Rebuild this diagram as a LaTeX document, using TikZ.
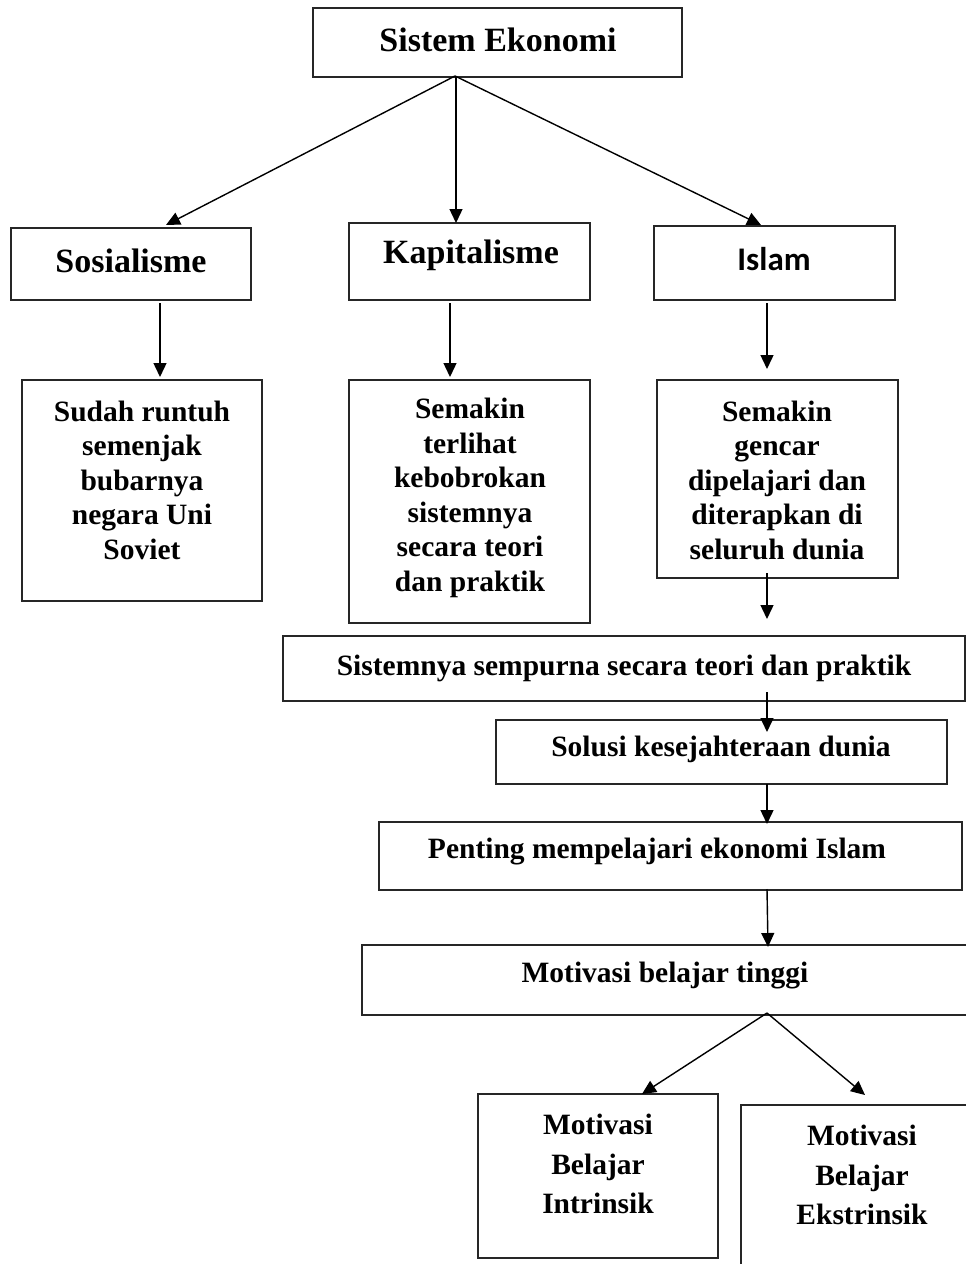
\documentclass[tikz,border=0pt]{standalone}
\usepackage{fontspec}
\setmainfont{Liberation Serif}
\newfontfamily\calfont{Carlito}
\usetikzlibrary{arrows.meta}
\tikzset{
  box/.style={draw=black!85, line width=1.3pt, anchor=north west, inner sep=0pt, outer sep=0pt},
  title/.style={font=\fontsize{34}{40}\selectfont\bfseries, inner sep=0pt},
  body/.style={font=\fontsize{29.5}{34.5}\selectfont\bfseries, align=center, inner sep=0pt},
  bodywide/.style={font=\fontsize{29.5}{39.5}\selectfont\bfseries, align=center, inner sep=0pt},
  arr/.style={line width=1.4pt, -{Triangle[length=14pt,width=13pt]}}
}
\begin{document}
\begin{tikzpicture}[x=1pt,y=-1pt]
\clip (0,0) rectangle (966,1264);
\fill[white] (0,0) rectangle (966,1264);
% boxes
\node[box, minimum width=369pt, minimum height=69pt] (top) at (313,8) {};
\node[box, minimum width=240pt, minimum height=72pt] (soc) at (11,228) {};
\node[box, minimum width=241pt, minimum height=77pt] (kap) at (349,223) {};
\node[box, minimum width=241pt, minimum height=74pt] (isl) at (654,226) {};
\node[box, minimum width=240pt, minimum height=221pt] (sud) at (22,380) {};
\node[box, minimum width=241pt, minimum height=243pt] (ter) at (349,380) {};
\node[box, minimum width=241pt, minimum height=198pt] (gen) at (657,380) {};
\node[box, minimum width=682pt, minimum height=65pt] (sis) at (283,636) {};
\node[box, minimum width=451pt, minimum height=64pt] (sol) at (496,720) {};
\node[box, minimum width=583pt, minimum height=68pt] (pen) at (379,822) {};
\node[box, minimum width=640pt, minimum height=70pt] (mot) at (362,945) {};
\node[box, minimum width=240pt, minimum height=164pt] (intr) at (478,1094) {};
\node[box, minimum width=300pt, minimum height=200pt] (ekst) at (741,1105) {};
% texts
\node[title] (tTop) at (498,40) {Sistem Ekonomi};
\node[title] (tSoc) at (131,261) {Sosialisme};
\node[title] (tKap) at (471,255) {Kapitalisme};
\node[title, font=\calfont\fontsize{33}{40}\selectfont\bfseries] (tIsl) at (774,259) {Islam};
\node[body] (tSud) at (142,480) {Sudah runtuh\\semenjak\\bubarnya\\negara Uni\\Soviet};
\node[body] (tTer) at (470,498) {Semakin\\terlihat\\kebobrokan\\sistemnya\\secara teori\\dan praktik};
\node[body] (tGen) at (777,480) {Semakin\\gencar\\dipelajari dan\\diterapkan di\\seluruh dunia};
\node[body] (tSis) at (624,668) {Sistemnya sempurna secara teori dan praktik};
\node[body] (tSol) at (721,749) {Solusi kesejahteraan dunia};
\node[body] (tPen) at (657,852) {Penting mempelajari ekonomi Islam};
\node[body] (tMot) at (665,976) {Motivasi belajar tinggi};
\node[bodywide] (tIntr) at (598,1164) {Motivasi\\Belajar\\Intrinsik};
\node[bodywide] (tEkst) at (862,1175) {Motivasi\\Belajar\\Ekstrinsik};
% origins
\coordinate (o1) at (455,76);
\coordinate (o2) at (767,1013);
% connectors
\draw[arr] (o1) -- ([xshift=35pt,yshift=3pt]soc.north);
\draw[arr] ([xshift=-13.5pt]kap.north |- top.south) -- ([xshift=-13.5pt]kap.north);
\draw[arr] (o1) -- ([xshift=-13.5pt,yshift=1pt]isl.north);
\draw[arr] ([xshift=29pt,yshift=-3pt]soc.south) -- ([xshift=18pt,yshift=3pt]sud.north);
\draw[arr] ([xshift=-19.5pt,yshift=-3pt]kap.south) -- ([xshift=-19.5pt,yshift=3pt]ter.north);
\draw[arr] ([xshift=-7.5pt,yshift=-3pt]isl.south) -- ([xshift=-10.5pt,yshift=11pt]gen.north);
\draw[arr] ([xshift=-10.5pt,yshift=5pt]gen.south) -- ([xshift=143pt,yshift=17pt]sis.north);
\draw[arr] ([xshift=143pt,yshift=9pt]sis.south) -- ([xshift=45.5pt,yshift=-12pt]sol.north);
\draw[arr] ([xshift=45.5pt]sol.south) -- ([xshift=96.5pt,yshift=-2pt]pen.north);
\draw[arr] ([xshift=96.5pt,yshift=1pt]pen.south) -- ([xshift=86pt,yshift=-2pt]mot.north);
\draw[arr] (o2) -- ([xshift=44pt]intr.north);
\draw[arr] (o2) -- ([xshift=-26pt,yshift=10pt]ekst.north);
\end{tikzpicture}
\end{document}
